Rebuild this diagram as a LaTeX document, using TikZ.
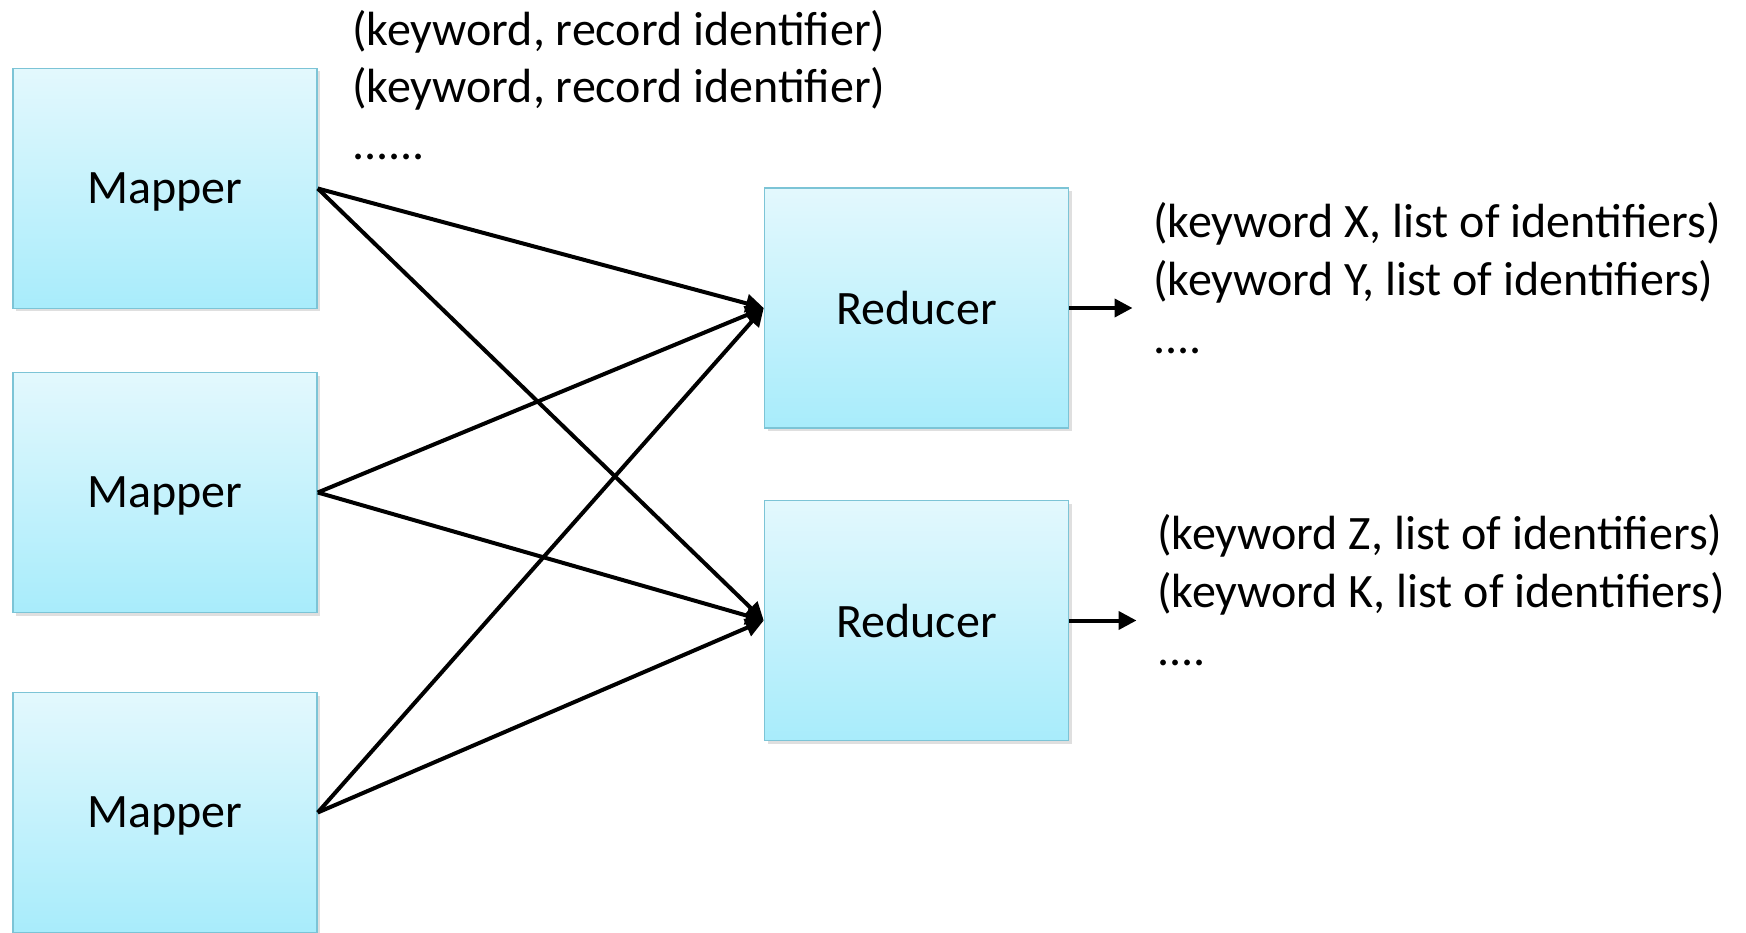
\documentclass[tikz,border=0pt]{standalone}
\usepackage{fontspec}
\setmainfont{Carlito}
\usetikzlibrary{arrows.meta,shadows}
\definecolor{boxtop}{HTML}{E3F8FD}
\definecolor{boxbottom}{HTML}{A8ECFB}
\definecolor{boxline}{HTML}{7CC4D6}
\tikzstyle{worker} = [rectangle, minimum width=304pt, minimum height=240pt, top color=boxtop, bottom color=boxbottom, draw=boxline, line width=1.5pt, drop shadow={shadow xshift=3pt, shadow yshift=-3pt, opacity=0.25}, text centered, text depth=0pt, font=\fontsize{48}{58}\selectfont]
\tikzstyle{pairs} = [align=left, anchor=base west, inner sep=0pt, font=\fontsize{48}{58}\selectfont]
\tikzstyle{arrow} = [line width=4pt, -{Triangle[length=18pt,width=18pt]}]

\begin{document}
\begin{tikzpicture}[x=1pt, y=-1pt, node distance=304pt]
    \useasboundingbox (0,0) rectangle (1746,933);

    \node (mapper1) [worker] at (165,188.5) {Mapper};
    \node (mapper2) [worker, below of=mapper1] {Mapper};
    \node (mapper3) [worker, below of=mapper2, node distance=320pt] {Mapper};

    \node (reducer1) [worker] at (916.5,308) {Reducer};
    \node (reducer2) [worker, below of=reducer1, node distance=312.5pt] {Reducer};

    % base west sits on the last line
    \node (mapout) [pairs, font=\fontsize{48}{57}\selectfont] at (352,160) {(keyword, record identifier)\\(keyword, record identifier)\\......};
    \node (reduceoutA) [pairs] at (1153,353) {(keyword X, list of identifiers)\\(keyword Y, list of identifiers)\\....};
    \node (reduceoutB) [pairs] at (1157,665) {(keyword Z, list of identifiers)\\(keyword K, list of identifiers)\\....};

    \coordinate[right of=reducer1, node distance=216pt] (outA);
    \coordinate[right of=reducer2, node distance=220pt] (outB);

    \draw [arrow] (mapper1.east) -- (reducer1.west);
    \draw [arrow] (mapper1.east) -- (reducer2.west);
    \draw [arrow] (mapper2.east) -- (reducer1.west);
    \draw [arrow] (mapper2.east) -- (reducer2.west);
    \draw [arrow] (mapper3.east) -- (reducer1.west);
    \draw [arrow] (mapper3.east) -- (reducer2.west);

    \draw [arrow] (reducer1.east) -- (outA);
    \draw [arrow] (reducer2.east) -- (outB);
\end{tikzpicture}
\end{document}
